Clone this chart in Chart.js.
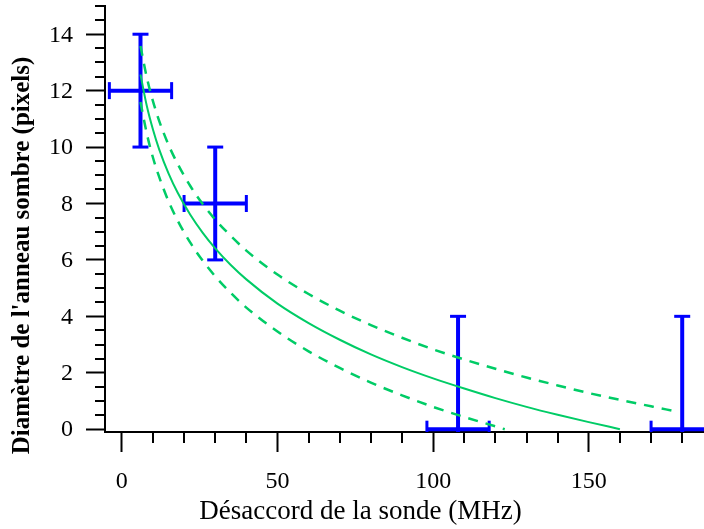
<!DOCTYPE html>
<html>
<head>
<meta charset="utf-8">
<script src="https://cdn.jsdelivr.net/npm/chart.js@4"></script>
<style>
  html, body { margin: 0; padding: 0; background: #fff; }
</style>
</head>
<body>
<canvas id="chart" width="704" height="529"></canvas>
<script>
// measured points (MHz, pixels) with their error bars
const detuning = [6, 30, 108, 180];
const diameter = [12, 8, 0, 0];
const detuningErr = [10, 10, 10, 10];
const diameterErr = [2, 2, 4, 4];

// fitted curve and its two bounds
const fitX = [6, 8, 10, 12, 15, 18, 22, 26, 30, 35, 40, 50, 60, 70, 80, 90, 100, 110, 120, 130, 140, 150, 160];
const fitY = [12.57, 11.47, 10.62, 9.92, 9.07, 8.37, 7.60, 6.96, 6.41, 5.82, 5.31, 4.45, 3.76, 3.17, 2.65, 2.20, 1.80, 1.44, 1.10, 0.79, 0.51, 0.25, 0];

const upperX = [6, 8, 10, 12, 15, 18, 22, 26, 30, 35, 40, 50, 60, 70, 80, 90, 100, 110, 120, 130, 140, 150, 160, 170, 177];
const upperY = [13.58, 12.48, 11.63, 10.93, 10.08, 9.39, 8.62, 7.98, 7.43, 6.85, 6.33, 5.48, 4.79, 4.20, 3.69, 3.24, 2.83, 2.47, 2.14, 1.83, 1.55, 1.28, 1.04, 0.81, 0.65];

const lowerX = [6, 8, 10, 12, 15, 18, 22, 26, 30, 35, 40, 50, 60, 70, 80, 90, 100, 110, 120, 123];
const lowerY = [11.60, 10.49, 9.63, 8.94, 8.08, 7.38, 6.61, 5.97, 5.42, 4.83, 4.31, 3.46, 2.76, 2.17, 1.65, 1.20, 0.79, 0.43, 0.10, 0];

const xTitle = "Désaccord de la sonde (MHz)";
const yTitle = "Diamètre de l'anneau sombre (pixels)";

const green = '#00cc66';
const blue = '#0000ff';

function toPoints(xs, ys) {
    return xs.map((v, i) => ({ x: v, y: ys[i] }));
}

function seg(ctx, x0, y0, x1, y1) {
    ctx.beginPath();
    ctx.moveTo(x0, y0);
    ctx.lineTo(x1, y1);
    ctx.stroke();
}

// error bars, drawn under the curves
const errorBars = {
    id: 'errorBars',
    beforeDatasetsDraw(chart) {
        const { ctx, chartArea: a, scales: { x, y } } = chart;
        ctx.save();
        ctx.beginPath();
        ctx.rect(a.left, a.top, a.right - a.left, a.bottom - a.top);
        ctx.clip();
        ctx.strokeStyle = blue;
        detuning.forEach((d, i) => {
            const px = x.getPixelForValue(d);
            const py = y.getPixelForValue(diameter[i]);
            const xl = x.getPixelForValue(d - detuningErr[i]);
            const xr = x.getPixelForValue(d + detuningErr[i]);
            const yb = y.getPixelForValue(diameter[i] - diameterErr[i]);
            const yt = y.getPixelForValue(diameter[i] + diameterErr[i]);
            ctx.lineWidth = 4;
            seg(ctx, px, yb, px, yt);
            seg(ctx, xl, py, xr, py);
            ctx.lineWidth = 3;
            seg(ctx, px - 8, yt, px + 8, yt);
            seg(ctx, px - 8, yb, px + 8, yb);
            seg(ctx, xl, py - 8.5, xl, py + 8.5);
            seg(ctx, xr, py - 8.5, xr, py + 8.5);
        });
        ctx.restore();
    },
    afterDraw(chart) {
        const { ctx, chartArea: a, scales: { x, y } } = chart;
        ctx.save();
        ctx.strokeStyle = '#000';
        ctx.lineWidth = 2;
        // minor ticks
        for (let v = 10; v <= 180; v += 10) {
            if (v % 50 === 0) continue;
            const px = Math.round(x.getPixelForValue(v));
            seg(ctx, px, a.bottom, px, a.bottom + 11);
        }
        for (let v = 0.5; v <= 15; v += 0.5) {
            if (v % 2 === 0) continue;
            const py = Math.round(y.getPixelForValue(v));
            seg(ctx, a.left - 10, py, a.left, py);
        }
        // axis titles
        ctx.fillStyle = '#000';
        ctx.textAlign = 'center';
        ctx.textBaseline = 'alphabetic';
        ctx.font = "27px 'Liberation Serif'";
        ctx.fillText(xTitle, 360.5, 519);
        ctx.translate(29, 255.5);
        ctx.rotate(-Math.PI / 2);
        ctx.font = "bold 25px 'Liberation Serif'";
        ctx.fillText(yTitle, 0, 0);
        ctx.restore();
    }
};

const tickFont = { family: 'Liberation Serif', size: 24 };

new Chart(document.getElementById('chart'), {
    type: 'scatter',
    data: {
        datasets: [
            {
                label: 'mesures',
                data: toPoints(detuning, diameter),
                pointRadius: 0,
                showLine: false
            },
            {
                label: 'ajustement',
                data: toPoints(fitX, fitY),
                showLine: true,
                borderColor: green,
                borderWidth: 2,
                pointRadius: 0,
                cubicInterpolationMode: 'monotone'
            },
            {
                label: 'borne haute',
                data: toPoints(upperX, upperY),
                showLine: true,
                borderColor: green,
                borderWidth: 2.5,
                borderDash: [10, 8],
                pointRadius: 0,
                cubicInterpolationMode: 'monotone'
            },
            {
                label: 'borne basse',
                data: toPoints(lowerX, lowerY),
                showLine: true,
                borderColor: green,
                borderWidth: 2.5,
                borderDash: [10, 8],
                pointRadius: 0,
                cubicInterpolationMode: 'monotone'
            }
        ]
    },
    options: {
        responsive: false,
        animation: false,
        layout: { padding: { top: 6, right: 0, bottom: 0, left: 0 } },
        plugins: {
            legend: { display: false },
            tooltip: { enabled: false }
        },
        scales: {
            x: {
                type: 'linear',
                min: -5.4,
                max: 187,
                afterFit: s => { s.height = 97; s.paddingLeft = 0; s.paddingRight = 0; },
                border: { display: true, color: '#000', width: 2 },
                grid: { drawOnChartArea: false, drawTicks: true, tickLength: 20, tickWidth: 2, tickColor: '#000' },
                ticks: { stepSize: 50, includeBounds: false, color: '#000', font: tickFont, padding: 15, maxRotation: 0 }
            },
            y: {
                type: 'linear',
                min: -0.1,
                max: 15,
                afterFit: s => { s.width = 105; s.paddingTop = 0; s.paddingBottom = 0; },
                border: { display: true, color: '#000', width: 2 },
                grid: { drawOnChartArea: false, drawTicks: true, tickLength: 19, tickWidth: 2, tickColor: '#000' },
                ticks: { stepSize: 2, includeBounds: false, color: '#000', font: tickFont, padding: 13, labelOffset: 1 }
            }
        }
    },
    plugins: [errorBars]
});
</script>
</body>
</html>
